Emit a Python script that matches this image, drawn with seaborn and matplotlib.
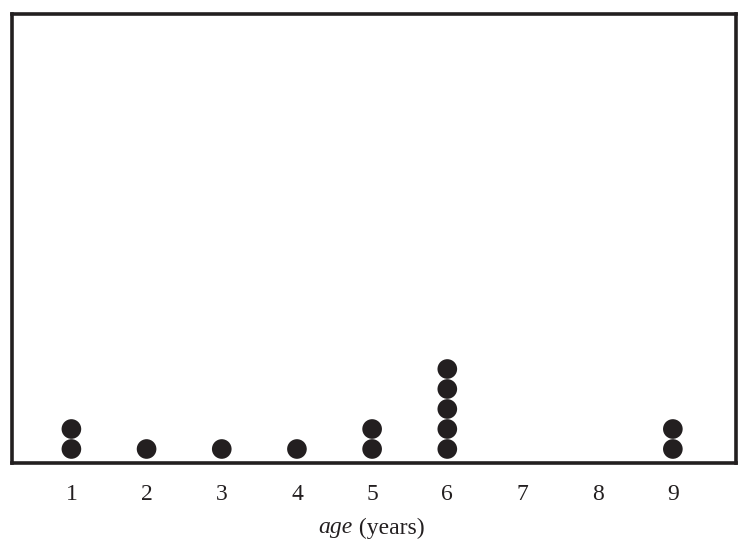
import matplotlib
matplotlib.use("Agg")
import matplotlib.pyplot as plt
import pandas as pd
import seaborn as sns

# counts
ages = [1, 2, 3, 4, 5, 6, 7, 8, 9]
counts = [2, 1, 1, 1, 2, 5, 0, 0, 2]

# one row per dot, stacked upward
rows = []
for age, n in zip(ages, counts):
    for k in range(1, n + 1):
        rows.append({"age": age, "stack": k})
df = pd.DataFrame(rows)

sns.set_style("white")
plt.rcParams["font.family"] = ["Liberation Serif", "DejaVu Serif"]

fig = plt.figure(figsize=(7.44, 5.47), dpi=100)
ax = fig.add_axes([12 / 744, 1 - 463 / 547, 724 / 744, 449 / 547])

sns.scatterplot(data=df, x="age", y="stack", ax=ax, s=200, color="#231f20",
                edgecolor="none", legend=False)

ax.set_xlim(0.21, 9.84)
ax.set_ylim(0.3, 0.3 + 449 / 20)
ax.set_xticks(ages)
ax.set_xticklabels([str(a) for a in ages], fontsize=17, color="#231f20")
ax.set_yticks([])
ax.tick_params(axis="x", direction="out", length=9, width=2.5, color="#231f20", pad=6)
for sp in ax.spines.values():
    sp.set_visible(True)
    sp.set_linewidth(2.6)
    sp.set_color("#231f20")
ax.set_ylabel("")
ax.set_xlabel("")

# axis title: italic "age" followed by upright "(years)"
fig.text(353 / 744, 1 - 528 / 547, "age", ha="right", va="center", fontsize=17,
         style="italic", color="#231f20")
fig.text(353 / 744, 1 - 528 / 547, " (years)", ha="left", va="center", fontsize=17,
         color="#231f20")

fig.savefig("out.png", dpi=100, facecolor="white")
